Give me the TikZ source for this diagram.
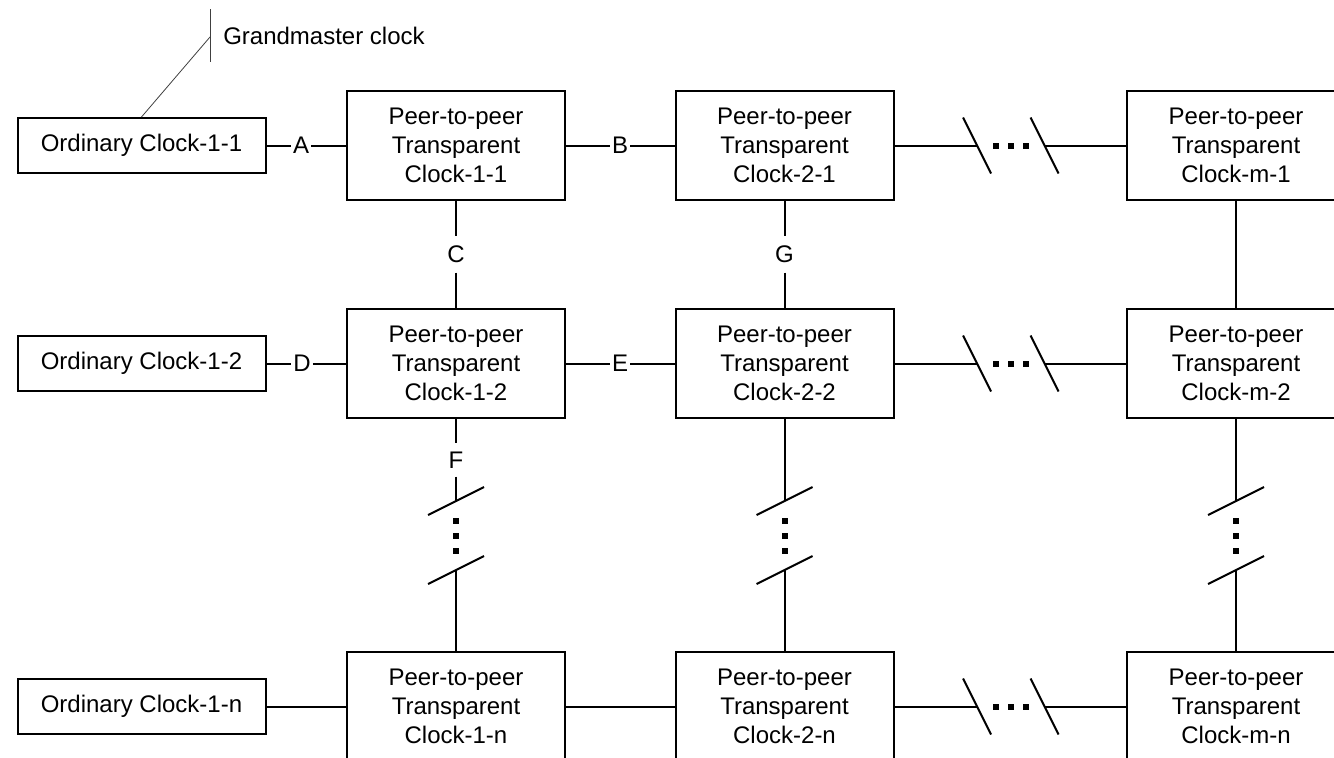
\documentclass[tikz,border=0pt]{standalone}
\usepackage{fontspec}
\setmainfont{Liberation Sans}
\usetikzlibrary{calc}
\begin{document}
\begin{tikzpicture}[x=0.75pt,y=-0.75pt,
  every node/.style={font=\fontsize{18pt}{21.75pt}\selectfont},
  link/.style={line width=1.5pt},
  peer/.style={draw, line width=1.5pt, minimum width=163.5pt, minimum height=81.75pt, inner sep=0pt, align=center},
  ordc/.style={draw, line width=1.5pt, minimum width=186pt, minimum height=41.25pt, inner sep=0pt},
  lbl/.style={inner xsep=1.5pt, inner ysep=2pt},
  vlbl/.style={inner xsep=2pt, inner ysep=7pt},
  brk/.style={line width=1.5pt},
  thinline/.style={line width=0.6pt, black!75}]
\useasboundingbox (0,0) rectangle (1334,757);
\clip (0,0) rectangle (1334,757);

% ordinary clocks
\node[ordc] (oc1) at (141.5,145.5) {Ordinary Clock-1-1};
\node[ordc] (oc2) at (141.5,363.5) {Ordinary Clock-1-2};
\node[ordc] (ocn) at (141.5,706.5) {Ordinary Clock-1-n};

% transparent clocks
\node[peer] (tc11) at (456,145.5) {Peer-to-peer\\Transparent\\Clock-1-1};
\node[peer] (tc21) at (784.5,145.5) {Peer-to-peer\\Transparent\\Clock-2-1};
\node[peer] (tcm1) at (1236,145.5) {Peer-to-peer\\Transparent\\Clock-m-1};
\node[peer] (tc12) at (456,363.5) {Peer-to-peer\\Transparent\\Clock-1-2};
\node[peer] (tc22) at (784.5,363.5) {Peer-to-peer\\Transparent\\Clock-2-2};
\node[peer] (tcm2) at (1236,363.5) {Peer-to-peer\\Transparent\\Clock-m-2};
\node[peer] (tc1n) at (456,706.5) {Peer-to-peer\\Transparent\\Clock-1-n};
\node[peer] (tc2n) at (784.5,706.5) {Peer-to-peer\\Transparent\\Clock-2-n};
\node[peer] (tcmn) at (1236,706.5) {Peer-to-peer\\Transparent\\Clock-m-n};

% grandmaster
\node[anchor=west, inner sep=0pt] (gm) at (223,36) {Grandmaster clock};
\coordinate (gmt) at (210,9);
\coordinate (gmb) at (210,62);
\coordinate (gmj) at (210,37);
\draw[thinline] (gmt) -- (gmb);
\draw[thinline] (oc1.north) -- (gmj);

% labels
\node[lbl] (lA) at (301,145.5) {A};
\node[lbl] (lB) at (620,145.5) {B};
\node[lbl] (lD) at (302,363.5) {D};
\node[lbl] (lE) at (620,363.5) {E};
\node[vlbl] (lC) at (456,254.5) {C};
\node[vlbl] (lG) at (784.5,254.5) {G};
\node[lbl, inner ysep=6pt] (lF) at (456,460) {F};

% labelled links
\draw[link] (oc1) -- (lA); \draw[link] (lA) -- (tc11);
\draw[link] (tc11) -- (lB); \draw[link] (lB) -- (tc21);
\draw[link] (oc2) -- (lD); \draw[link] (lD) -- (tc12);
\draw[link] (tc12) -- (lE); \draw[link] (lE) -- (tc22);
\draw[link] (tc11) -- (lC); \draw[link] (lC) -- (tc12);
\draw[link] (tc21) -- (lG); \draw[link] (lG) -- (tc22);
\draw[link] (tcm1) -- (tcm2);
\draw[link] (ocn) -- (tc1n);
\draw[link] (tc1n) -- (tc2n);

% horizontal breaks
\foreach \r/\y in {1/145.5,2/363.5,n/706.5}{
  \coordinate (h\r a) at (977,\y);
  \coordinate (h\r b) at (1044.5,\y);
  \draw[brk] ($(h\r a)+(-14,-28)$) -- ($(h\r a)+(14,28)$);
  \draw[brk] ($(h\r b)+(-14,-28)$) -- ($(h\r b)+(14,28)$);
  \foreach \x in {996,1011,1026}
    \fill (\x-3,\y-3) rectangle (\x+3,\y+3);
}
\draw[link] (tc21) -- (h1a); \draw[link] (h1b) -- (tcm1);
\draw[link] (tc22) -- (h2a); \draw[link] (h2b) -- (tcm2);
\draw[link] (tc2n) -- (hna); \draw[link] (hnb) -- (tcmn);

% vertical breaks
\foreach \c/\x in {1/456,2/784.5,m/1236}{
  \coordinate (v\c a) at (\x,501);
  \coordinate (v\c b) at (\x,570);
  \draw[brk] ($(v\c a)+(-28,14)$) -- ($(v\c a)+(28,-14)$);
  \draw[brk] ($(v\c b)+(-28,14)$) -- ($(v\c b)+(28,-14)$);
  \foreach \y in {521,536,551}
    \fill (\x-3,\y-3) rectangle (\x+3,\y+3);
}
\draw[link] (tc12) -- (lF); \draw[link] (lF) -- (v1a); \draw[link] (v1b) -- (tc1n);
\draw[link] (tc22) -- (v2a); \draw[link] (v2b) -- (tc2n);
\draw[link] (tcm2) -- (vma); \draw[link] (vmb) -- (tcmn);
\end{tikzpicture}
\end{document}
